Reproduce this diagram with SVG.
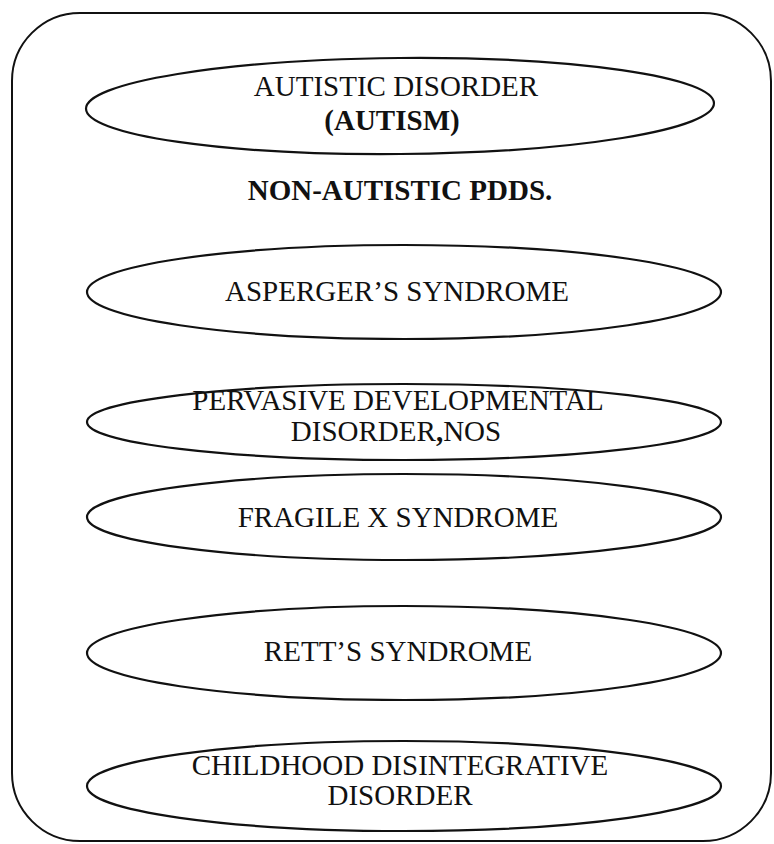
<svg xmlns="http://www.w3.org/2000/svg" width="774" height="844" viewBox="0 0 774 844">
<style>
.frame{fill:none;stroke:#111;stroke-width:2}
.node ellipse{fill:none;stroke:#111;stroke-width:2.2}
text{font-family:"Liberation Serif","Times New Roman",serif;font-size:29px;fill:#111;text-anchor:middle}
.b{font-weight:bold}
</style>
<rect width="774" height="844" fill="#fff"/>
<rect class="frame" x="12" y="13" width="759" height="828" rx="68" ry="68"/>
<g id="connectors"></g>
<g id="autistic" class="node">
<ellipse cx="400" cy="106" rx="314" ry="48" transform="rotate(-0.5 400 106)"/>
<text x="396"><tspan x="396" y="96">AUTISTIC DISORDER</tspan><tspan x="392" y="130" class="b">(AUTISM)</tspan></text>
</g>
<g id="nonautistic">
<text x="400" y="200" class="b">NON-AUTISTIC PDDS.</text>
</g>
<g id="asperger" class="node">
<ellipse cx="404" cy="292" rx="317" ry="47"/>
<text x="397" y="301">ASPERGER’S SYNDROME</text>
</g>
<g id="pdd" class="node">
<ellipse cx="404" cy="422" rx="317" ry="38"/>
<text><tspan x="398" y="410">PERVASIVE DEVELOPMENTAL</tspan><tspan x="396" y="441">DISORDER<tspan class="b">,</tspan>NOS</tspan></text>
</g>
<g id="fragile" class="node">
<ellipse cx="404" cy="517" rx="317" ry="43"/>
<text x="398" y="527">FRAGILE X SYNDROME</text>
</g>
<g id="rett" class="node">
<ellipse cx="404" cy="653" rx="317" ry="47"/>
<text x="398" y="661">RETT’S SYNDROME</text>
</g>
<g id="cdd" class="node">
<ellipse cx="404" cy="786" rx="317" ry="45"/>
<text><tspan x="400" y="775">CHILDHOOD DISINTEGRATIVE</tspan><tspan x="400" y="805">DISORDER</tspan></text>
</g>
</svg>
